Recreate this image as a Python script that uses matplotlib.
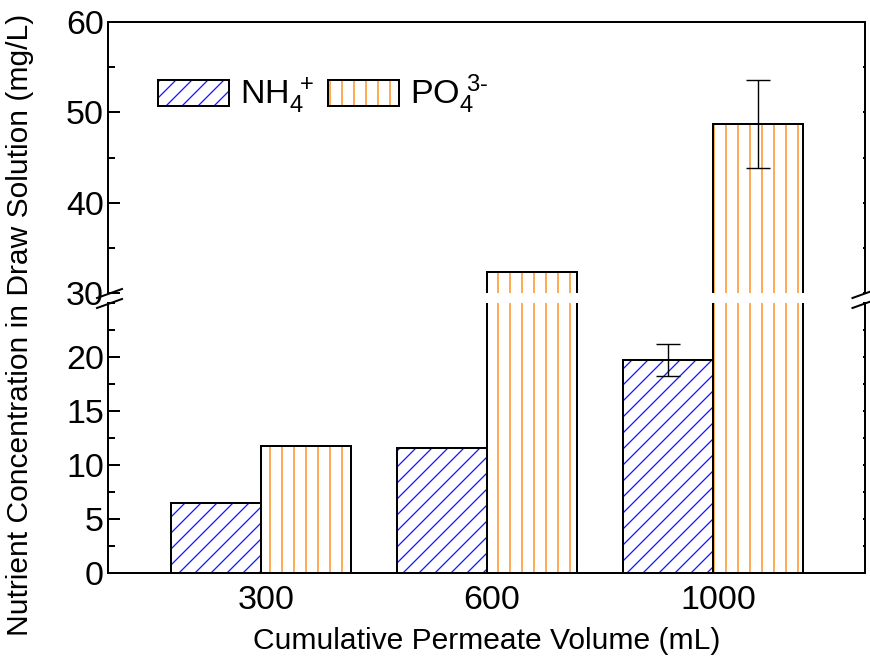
import matplotlib
matplotlib.use("Agg")
import matplotlib.pyplot as plt
from matplotlib.patches import Patch
from matplotlib.legend_handler import HandlerTuple
from matplotlib.ticker import MultipleLocator
from matplotlib.transforms import ScaledTranslation
import numpy as np

# data
volumes = ["300", "600", "1000"]
nh4 = [6.5, 11.6, 19.7]
nh4_err = [0, 0, 1.5]
po4 = [11.8, 32.3, 48.7]
po4_err = [0, 0, 4.85]

DPI = 288
W, H = 870, 665
PX = 72.0 / DPI  # px -> pt

plt.rcParams['font.family'] = ['Liberation Sans', 'DejaVu Sans']
plt.rcParams['mathtext.fontset'] = 'custom'
plt.rcParams['mathtext.rm'] = 'Liberation Sans'
plt.rcParams['mathtext.it'] = 'Liberation Sans:italic'
plt.rcParams['hatch.linewidth'] = 1.3 * PX

BLUE = '#1a1aff'
ORANGE = '#ff8000'
HATCH_NH4 = '//////'
HATCH_PO4 = '||||'

fig = plt.figure(figsize=(W / DPI, H / DPI), dpi=DPI)
left, right = 108, 865
ax_lo = fig.add_axes([left / W, 1 - 573 / H, (right - left) / W, (573 - 303) / H])
ax_hi = fig.add_axes([left / W, 1 - 293 / H, (right - left) / W, (293 - 22) / H])

x = np.arange(len(volumes))
bw = 0.4

for ax in (ax_lo, ax_hi):
    # hatch layers, then black outlines
    ax.bar(x - bw / 2, nh4, bw, facecolor='white', edgecolor=BLUE, hatch=HATCH_NH4, linewidth=0)
    ax.bar(x + bw / 2, po4, bw, facecolor='white', edgecolor=ORANGE, hatch=HATCH_PO4, linewidth=0)
    ax.bar(x - bw / 2, nh4, bw, fill=False, edgecolor='black', linewidth=2 * PX)
    ax.bar(x + bw / 2, po4, bw, fill=False, edgecolor='black', linewidth=2 * PX)
    ax.set_xlim(-0.677, 2.673)
    for s in ax.spines.values():
        s.set_linewidth(2 * PX)
    ax.tick_params(axis='y', which='major', direction='in', length=12 * PX, width=2 * PX,
                   labelsize=34 * PX, pad=4 * PX, right=True)
    ax.tick_params(axis='y', which='minor', direction='in', length=7 * PX, width=2 * PX, right=True)

# error bars only where present
ax_lo.errorbar(x[2] - bw / 2, nh4[2], yerr=nh4_err[2], fmt='none', ecolor='black',
               elinewidth=1.4 * PX, capsize=12 * PX, capthick=1.4 * PX)
ax_hi.errorbar(x[2] + bw / 2, po4[2], yerr=po4_err[2], fmt='none', ecolor='black',
               elinewidth=1.4 * PX, capsize=12 * PX, capthick=1.4 * PX)

ax_lo.set_ylim(0, 25)
ax_lo.set_yticks([0, 5, 10, 15, 20])
ax_lo.yaxis.set_minor_locator(MultipleLocator(2.5))
ax_lo.spines['top'].set_visible(False)
ax_lo.set_xticks(x)
ax_lo.set_xticklabels(volumes)
ax_lo.tick_params(axis='x', direction='in', length=10 * PX, width=2 * PX,
                  labelsize=34 * PX, pad=12 * PX)
for lab in ax_lo.get_xticklabels():
    lab.set_transform(lab.get_transform() + ScaledTranslation(5 / DPI, 0, fig.dpi_scale_trans))

ax_hi.set_ylim(30, 60)
ax_hi.set_yticks([30, 40, 50, 60])
ax_hi.yaxis.set_minor_locator(MultipleLocator(5))
ax_hi.spines['bottom'].set_visible(False)
ax_hi.set_xticks([])

# tiny ticks on right side
for ax in (ax_lo, ax_hi):
    for t in ax.yaxis.get_major_ticks() + ax.yaxis.get_minor_ticks():
        t.tick2line.set_markersize(2 * PX)

# break marks
def slash(xpx, ypx):
    dx, dy = 12.5, 4.5
    fig.add_artist(plt.Line2D([(xpx - dx) / W, (xpx + dx) / W],
                              [1 - (ypx + dy) / H, 1 - (ypx - dy) / H],
                              color='black', linewidth=2 * PX, transform=fig.transFigure))

for xp in (left + 1.5, right):
    slash(xp, 293.5)
    slash(xp, 303.5)

# legend
h1 = (Patch(facecolor='white', edgecolor=BLUE, hatch=HATCH_NH4, linewidth=0),
      Patch(fill=False, edgecolor='black', linewidth=2 * PX))
h2 = (Patch(facecolor='white', edgecolor=ORANGE, hatch=HATCH_PO4, linewidth=0),
      Patch(fill=False, edgecolor='black', linewidth=2 * PX))
ax_hi.legend([h1, h2], [r'NH$_{4}^{\ +}$', r'PO$_{4}^{\ \text{3-}}$'],
             handler_map={tuple: HandlerTuple(ndivide=1)},
             loc='center left', bbox_to_anchor=(0.066, 0.7325), ncol=2, frameon=False,
             fontsize=34 * PX, handlelength=2.09, handleheight=0.8,
             handletextpad=0.32, columnspacing=0.4, borderpad=0, borderaxespad=0)

fig.text(487 / W, 1 - 641 / H, 'Cumulative Permeate Volume (mL)', ha='center', va='center',
         fontsize=30 * PX)
fig.text(20 / W, 1 - 325 / H, 'Nutrient Concentration in Draw Solution (mg/L)', ha='center',
         va='center', rotation=90, fontsize=30 * PX)

fig.savefig('out.png', dpi=DPI)
